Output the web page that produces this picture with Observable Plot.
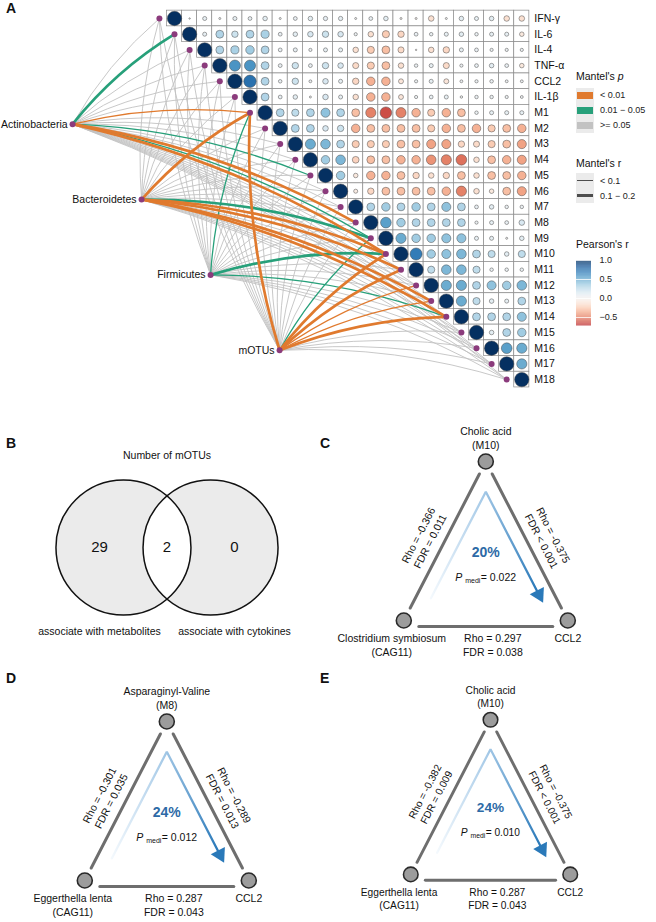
<!DOCTYPE html>
<html><head><meta charset="utf-8">
<script src="https://cdn.jsdelivr.net/npm/d3@7"></script>
<script src="https://cdn.jsdelivr.net/npm/@observablehq/plot@0.6"></script>
<style>
body{margin:0;background:#fff;font-family:"Liberation Sans",Arial,Helvetica,sans-serif;color:#111;}
#fig{position:relative;width:656px;height:922px;overflow:hidden;background:#fff;}
.pl{position:absolute;font-weight:bold;font-size:14px;line-height:14px;}
.lg{position:absolute;font-size:10.5px;line-height:12px;white-space:nowrap;}
.lgs{position:absolute;font-size:9px;line-height:10px;white-space:nowrap;color:#222;}
</style></head><body><div id="fig"></div>
<script>
// ---------------- DATA ----------------
const variables = ["IFN-γ","IL-6","IL-4","TNF-α","CCL2","IL-1β","M1","M2","M3","M4","M5","M6","M7","M8","M9","M10","M11","M12","M13","M14","M15","M16","M17","M18"];
// Pearson's r, upper triangle: row i holds r(i, j) for j = i+1 ... 23
const corrRows = [
 [0.01,0.08,0.02,0.08,0.07,0.1,0.02,0.07,0.1,0.09,0.09,0.02,0.07,0.1,-0.02,-0.02,-0.15,0.02,0.1,0.08,0.1,-0.15,-0.15],
 [0.08,0.3,0.2,0.3,0.32,0.07,0.1,0.15,0.2,0.15,0.05,-0.15,-0.25,-0.2,0.07,0.06,0.08,0.1,0.06,0.08,0.08,-0.1],
 [0.3,0.32,0.35,0.3,0.07,0.08,0.05,0.08,0.08,-0.15,-0.25,-0.3,-0.18,-0.01,-0.15,-0.2,0.08,0.07,0.05,0.05,0.05],
 [0.6,0.6,0.3,0.07,0.2,0.07,0.2,0.15,-0.18,-0.25,-0.3,-0.15,0.06,0.08,-0.18,0.05,0.07,0.1,0.07,-0.1],
 [0.75,0.3,0.06,0.2,0.04,0.15,0.08,-0.2,-0.35,-0.35,-0.12,0.05,0.08,-0.12,0.04,0.05,0.06,0.04,0.04],
 [0.3,0.07,0.1,0.02,0.15,0.08,-0.15,-0.35,-0.35,-0.12,0.05,0.07,0.08,0.03,0.06,0.06,0.05,0.04],
 [0.3,0.25,0.3,0.4,0.3,-0.3,-0.5,-0.65,-0.5,-0.35,-0.25,-0.35,-0.3,0.06,0.08,0.08,0.08],
 [0.3,0.3,0.15,0.2,-0.35,-0.3,-0.3,-0.3,-0.3,-0.25,-0.35,-0.3,-0.35,-0.25,-0.3,-0.35],
 [0.5,0.45,0.3,-0.25,-0.25,-0.25,-0.3,-0.3,-0.4,-0.4,-0.2,-0.18,-0.25,-0.3,-0.4],
 [0.35,0.45,-0.22,-0.3,-0.3,-0.35,-0.35,-0.45,-0.5,-0.55,-0.15,-0.3,-0.35,-0.4],
 [0.35,-0.1,-0.35,-0.35,-0.3,-0.2,-0.15,-0.2,-0.3,-0.15,-0.3,-0.3,-0.35],
 [-0.08,-0.2,-0.3,-0.3,-0.3,-0.3,-0.35,-0.5,-0.15,-0.1,-0.3,-0.4],
 [0.3,0.35,0.3,0.35,0.3,0.4,0.3,0.07,0.1,0.06,0.06],
 [0.55,0.35,0.3,0.3,0.3,0.3,0.05,0.08,0.07,0.15],
 [0.5,0.35,0.35,0.4,0.4,0.08,0.08,0.02,0.1],
 [0.7,0.35,0.4,0.45,0.3,0.25,0.1,0.25],
 [0.25,0.45,0.45,0.25,0.06,0.06,0.06],
 [0.5,0.5,0.3,0.4,0.35,0.45],
 [0.5,0.25,0.1,0.08,0.3],
 [0.3,0.3,0.3,0.4],
 [0.1,0.3,0.35],
 [0.55,0.5],
 [0.5]
];
const mantelSources = ["Actinobacteria","Bacteroidetes","Firmicutes","mOTUs"];
// significant Mantel tests: [source, target, Mantel's p class, Mantel's r class]; all others are ">= 0.05", "< 0.1"
const mantelLinks = [
 ["Actinobacteria","IL-6","0.01 - 0.05","0.1 - 0.2"],
 ["Actinobacteria","M1","< 0.01","< 0.1"],
 ["Actinobacteria","M5","0.01 - 0.05","< 0.1"],
 ["Actinobacteria","M8","< 0.01","0.1 - 0.2"],
 ["Actinobacteria","M9","0.01 - 0.05","< 0.1"],
 ["Actinobacteria","M10","< 0.01","0.1 - 0.2"],
 ["Bacteroidetes","M1","< 0.01","0.1 - 0.2"],
 ["Bacteroidetes","M9","0.01 - 0.05","0.1 - 0.2"],
 ["Bacteroidetes","M10","< 0.01","0.1 - 0.2"],
 ["Bacteroidetes","M11","< 0.01","0.1 - 0.2"],
 ["Bacteroidetes","M13","< 0.01","0.1 - 0.2"],
 ["Bacteroidetes","M14","< 0.01","0.1 - 0.2"],
 ["Firmicutes","M1","0.01 - 0.05","< 0.1"],
 ["Firmicutes","M10","0.01 - 0.05","0.1 - 0.2"],
 ["Firmicutes","M14","0.01 - 0.05","< 0.1"],
 ["mOTUs","M1","< 0.01","0.1 - 0.2"],
 ["mOTUs","M9","0.01 - 0.05","< 0.1"],
 ["mOTUs","M10","< 0.01","0.1 - 0.2"],
 ["mOTUs","M11","< 0.01","0.1 - 0.2"],
 ["mOTUs","M12","< 0.01","< 0.1"],
 ["mOTUs","M13","< 0.01","< 0.1"],
 ["mOTUs","M14","< 0.01","0.1 - 0.2"]
];
const mantelPClasses = ["< 0.01","0.01 - 0.05",">= 0.05"];
const mantelRClasses = ["< 0.1","0.1 - 0.2"];
const pearsonTicks = [1.0, 0.5, 0.0, -0.5];
const pearsonRange = [-0.72, 1.0];

const vennTitle = "Number of mOTUs";
const vennSets = ["associate with metabolites","associate with cytokines"];
const vennOnly = [29, 0];
const vennBoth = 2;

const metaboliteNames = ["Cholic acid\n(M10)","Asparaginyl-Valine\n(M8)","Cholic acid\n(M10)"];
const microbeNames = ["Clostridium symbiosum\n(CAG11)","Eggerthella lenta\n(CAG11)","Eggerthella lenta\n(CAG11)"];
const cytokineNames = ["CCL2","CCL2","CCL2"];
const rhoMicrobeMetab = [-0.366,-0.301,-0.382];
const fdrMicrobeMetab = ["= 0.011","= 0.035","= 0.009"];
const rhoMetabCyto = [-0.375,-0.289,-0.375];
const fdrMetabCyto = ["< 0.001","= 0.013","< 0.001"];
const rhoMicrobeCyto = [0.297,0.287,0.287];
const fdrMicrobeCyto = ["= 0.038","= 0.043","= 0.043"];
const mediationPct = [20,24,24];
const pMedi = [0.022,0.012,0.010];

// ---------------- HELPERS ----------------
const FONT = '"Liberation Sans", Arial, Helvetica, sans-serif';
const fig = document.getElementById("fig");
function place(node, left, top){const d=document.createElement("div");d.style.cssText=`position:absolute;left:${left}px;top:${top}px;`;d.appendChild(node);fig.appendChild(d);return d;}
function html(cls, text, left, top){const d=document.createElement("div");d.className=cls;d.innerHTML=text;d.style.left=left+"px";d.style.top=top+"px";fig.appendChild(d);return d;}
function box(css){const d=document.createElement("div");d.style.cssText="position:absolute;"+css;fig.appendChild(d);return d;}
const colorScale = {type:"linear", scheme:"RdBu", domain:[-1,1]};
const pColors = {"< 0.01":"#e07a2e","0.01 - 0.05":"#27a07a",">= 0.05":"#c2c2c2"};

// ---------------- PANEL A ----------------
{
  const cw = 15.1, ch = 15.7, gx0 = 174, gy0 = 18, AW = 656, AH = 395;
  const cells = [];
  variables.forEach((v,i)=>{
    cells.push({row:i,col:i,r:1});
    (corrRows[i]||[]).forEach((r,k)=>cells.push({row:i,col:i+1+k,r}));
  });
  const srcPos = mantelSources.map((s,k)=>({name:s, x:-6.75+4.57*k, y:6.73+4.8*k}));
  const tgtPos = variables.map((v,i)=>({name:v, x:i-1, y:i}));
  const links = [];
  srcPos.forEach(s=>tgtPos.forEach(t=>{
    const f = mantelLinks.find(l=>l[0]===s.name && l[1]===t.name);
    links.push({sx:s.x, sy:s.y, tx:t.x, ty:t.y, p: f?f[2]:">= 0.05", w: f?f[3]:"< 0.1"});
  }));
  const linkMarks = [];
  [">= 0.05","0.01 - 0.05","< 0.01"].forEach(p=>mantelRClasses.forEach(w=>{
    linkMarks.push(Plot.arrow(links.filter(d=>d.p===p && d.w===w), {
      x1:"sx", y1:"sy", x2:"tx", y2:"ty", bend:10, headLength:0,
      stroke:pColors[p], strokeWidth: w==="< 0.1" ? (p===">= 0.05"?0.9:1.3) : 2.7
    }));
  }));
  const plotA = Plot.plot({
    width:AW, height:AH, margin:0,
    x:{type:"linear", domain:[-gx0/cw,(AW-gx0)/cw], range:[0,AW], axis:null},
    y:{type:"linear", domain:[-gy0/ch,(AH-gy0)/ch], range:[0,AH], axis:null},
    r:{type:"sqrt", domain:[0,1], range:[0,7.2]},
    color:colorScale,
    style:{fontFamily:FONT, fontSize:"10.5px", background:"transparent", color:"#111"},
    marks:[
      ...linkMarks,
      Plot.rect(cells,{x1:d=>d.col-0.5,x2:d=>d.col+0.5,y1:d=>d.row-0.5,y2:d=>d.row+0.5,fill:"white",stroke:"#8a8a8a",strokeWidth:0.7}),
      Plot.dot(cells,{x:"col",y:"row",r:d=>Math.abs(d.r),fill:"r",stroke:"#4a4a4a",strokeWidth:0.5}),
      Plot.dot(tgtPos,{x:"x",y:"y",r:3,fill:"#8b3b7c"}),
      Plot.dot(srcPos,{x:"x",y:"y",r:3,fill:"#8b3b7c"}),
      Plot.text(srcPos,{x:"x",y:"y",text:"name",textAnchor:"end",dx:-5,fontSize:10.5}),
      Plot.text(variables,{x:variables.length-0.5,y:(d,i)=>i,text:d=>d,textAnchor:"start",dx:5,fontSize:10.5})
    ]
  });
  place(plotA,0,0);
  html("pl","A",6,1);

  // legends
  const LX = 576;
  html("lg","Mantel's <i>p</i>",LX,70);
  box(`left:${LX}px;top:88px;width:18px;height:45px;background:#ebebeb;`);
  mantelPClasses.forEach((p,k)=>{
    box(`left:${LX+1}px;top:${92+15*k}px;width:16px;height:7px;background:${pColors[p]};`);
    html("lgs",p.replace(" - "," − "),LX+24,90+15*k);
  });
  html("lg","Mantel's r",LX,157);
  box(`left:${LX}px;top:173px;width:18px;height:30px;background:#ebebeb;`);
  mantelRClasses.forEach((w,k)=>{
    const h = k===0?1.2:2.6;
    box(`left:${LX+1}px;top:${180.5+15*k-h/2}px;width:16px;height:${h}px;background:#4d4d4d;`);
    html("lgs",w.replace(" - "," − "),LX+24,175.5+15*k);
  });
  html("lg","Pearson's r",LX,238);
  const rampVals = d3.range(pearsonRange[0], pearsonRange[1], 0.01);
  const ramp = Plot.plot({
    width:70, height:90, margin:0,
    x:{type:"linear",domain:[0,1],range:[0,15],axis:null},
    y:{type:"linear",domain:pearsonRange,range:[75.4,10],axis:null},
    color:colorScale,
    style:{fontFamily:FONT, background:"transparent", color:"#222"},
    marks:[
      Plot.rect(rampVals,{x1:0,x2:1,y1:d=>d,y2:d=>Math.min(d+0.011,pearsonRange[1]),fill:d=>d}),
      Plot.tickY(pearsonTicks,{x1:0,x2:0.2,y:d=>d,stroke:"white",strokeWidth:0.8}),
      Plot.text(pearsonTicks,{x:1,y:d=>d,text:d=>d3.format(".1f")(d),dx:8,textAnchor:"start",fontSize:9})
    ]
  });
  place(ramp,LX,250);
}

// ---------------- PANEL B ----------------
{
  const W=330,H=250,R=67.5,cx=166.5,cy=152,d=0.645;
  const centers=[{x:-d,y:0,name:vennSets[0],count:vennOnly[0]},{x:d,y:0,name:vennSets[1],count:vennOnly[1]}];
  const a=Math.acos(d);
  const lens=[];
  d3.range(-a,a+1e-9,a/40).forEach(t=>lens.push({x:-d+Math.cos(t),y:Math.sin(t)}));
  d3.range(a,-a-1e-9,-a/40).forEach(t=>lens.push({x:d-Math.cos(t),y:Math.sin(t)}));
  const onlyX=[(-1-d+(d-1))/2,((1-d)+(1+d))/2];
  const plotB=Plot.plot({
    width:W,height:H,margin:0,
    x:{type:"linear",domain:[-cx/R,(W-cx)/R],range:[0,W],axis:null},
    y:{type:"linear",domain:[-cy/R,(H-cy)/R],range:[0,H],axis:null},
    style:{fontFamily:FONT,fontSize:"10.5px",background:"transparent",color:"#111"},
    marks:[
      Plot.dot(centers,{x:"x",y:"y",r:R,fill:"#ebebeb",stroke:"none"}),
      Plot.line(lens,{x:"x",y:"y",fill:"white",stroke:"none"}),
      Plot.dot(centers,{x:"x",y:"y",r:R,fill:"none",stroke:"#111",strokeWidth:1.5}),
      Plot.text([vennTitle],{x:0,y:-1.363,text:d=>d,fontSize:10.5}),
      Plot.text(centers,{x:(c,i)=>onlyX[i],y:0,text:"count",fontSize:15}),
      Plot.text([vennBoth],{x:0,y:0,text:d=>d,fontSize:15}),
      Plot.text(centers,{x:(c,i)=>onlyX[i],y:1.244,text:"name",fontSize:10.5})
    ]
  });
  place(plotB,0,395);
  html("pl","B",6,436);
}

// ---------------- PANELS C, D, E ----------------
function trianglePanel(k,left,top,letter,lx,ly){
  const W=326,H=262,cx=155.3,cy=220,ux=82,vy=159;
  const nodes=[{x:0,y:1},{x:-1,y:0},{x:1,y:0}];
  const sideEdges=[{x1:-1,y1:0,x2:0,y2:1},{x1:0,y1:1,x2:1,y2:0}];
  const bottomEdge=[{x1:-1,y1:0,x2:1,y2:0}];
  const tail={x:-0.67,y:0.14}, apex={x:0,y:0.81}, tip={x:0.70,y:0.11};
  const dxp=(tip.x-apex.x)*ux, dyp=-(tip.y-apex.y)*vy, L=Math.hypot(dxp,dyp), ex=dxp/L, ey=dyp/L;
  const headLen=14;
  const base={x:tip.x-ex*headLen/ux,y:tip.y+ey*headLen/vy};
  const cent={x:tip.x-ex*(headLen*2/3)/ux,y:tip.y+ey*(headLen*2/3)/vy};
  const rot=Math.atan2(ey,ex)*180/Math.PI+90;
  const gid="medGrad"+letter;
  const defs=()=>{
    const ns="http://www.w3.org/2000/svg";
    const df=document.createElementNS(ns,"defs");
    const g=document.createElementNS(ns,"linearGradient");
    g.setAttribute("id",gid);g.setAttribute("x1","0");g.setAttribute("x2","1");g.setAttribute("y1","0");g.setAttribute("y2","0");
    [["0","#f4f9fd"],["0.48","#a8cbe8"],["1","#2a79b9"]].forEach(([o,c])=>{const s=document.createElementNS(ns,"stop");s.setAttribute("offset",o);s.setAttribute("stop-color",c);g.appendChild(s);});
    df.appendChild(g);return df;
  };
  const sideLabels=[
    {x:-0.5,y:0.5,text:`Rho = ${rhoMicrobeMetab[k]}\nFDR ${fdrMicrobeMetab[k]}`},
    {x:0.5,y:0.5,text:`Rho = ${rhoMetabCyto[k]}\nFDR ${fdrMetabCyto[k]}`}
  ];
  const ang=Math.atan2(vy,ux)*180/Math.PI;
  const p=Plot.plot({
    width:W,height:H,margin:0,
    x:{type:"linear",domain:[-cx/ux,(W-cx)/ux],range:[0,W],axis:null},
    y:{type:"linear",domain:[(cy-H)/vy,cy/vy],range:[H,0],axis:null},
    style:{fontFamily:FONT,fontSize:"10.5px",background:"transparent",color:"#111"},
    marks:[
      defs,
      Plot.arrow(sideEdges,{x1:"x1",y1:"y1",x2:"x2",y2:"y2",headLength:0,insetStart:14,insetEnd:14,stroke:"#6e6e6e",strokeWidth:3}),
      Plot.arrow(bottomEdge,{x1:"x1",y1:"y1",x2:"x2",y2:"y2",headLength:0,insetStart:15,insetEnd:15,stroke:"#6e6e6e",strokeWidth:3,dy:6}),
      Plot.line([tail,apex,base],{x:"x",y:"y",stroke:`url(#${gid})`,strokeWidth:2.3,strokeLinejoin:"miter"}),
      Plot.dot([cent],{x:"x",y:"y",symbol:"triangle",r:5.9,fill:"#2a79b9",stroke:"none",rotate:rot}),
      Plot.dot(nodes,{x:"x",y:"y",r:7.5,fill:"#9c9c9c",stroke:"#2a2a2a",strokeWidth:1.6}),
      Plot.text([metaboliteNames[k]],{x:0,y:1,text:d=>d,lineAnchor:"bottom",dy:-13,lineHeight:1.3}),
      Plot.text([microbeNames[k]],{x:-1,y:0,text:d=>d,lineAnchor:"top",dy:12,dx:-12,lineHeight:1.3}),
      Plot.text([cytokineNames[k]],{x:1,y:0,text:d=>d,lineAnchor:"top",dy:12,lineHeight:1.3}),
      Plot.text([`Rho = ${rhoMicrobeCyto[k]}\nFDR ${fdrMicrobeCyto[k]}`],{x:0,y:0,text:d=>d,lineAnchor:"top",dy:12,dx:7,lineHeight:1.3}),
      Plot.text(sideLabels.slice(0,1),{x:"x",y:"y",text:"text",rotate:-ang,dx:-21,dy:-3,lineHeight:1.25}),
      Plot.text(sideLabels.slice(1),{x:"x",y:"y",text:"text",rotate:ang,dx:21,dy:-3,lineHeight:1.25}),
      Plot.text([`${mediationPct[k]}%`],{x:0,y:0.43,text:d=>d,fontSize:14,fontWeight:"bold",fill:"#2d6aa6"}),
      Plot.text(["P"],{x:0,y:0.27,text:d=>d,fontStyle:"italic",dx:-27}),
      Plot.text(["medi"],{x:0,y:0.27,text:d=>d,fontSize:7,dx:-13,dy:3}),
      Plot.text([`= ${d3.format(".3f")(pMedi[k])}`],{x:0,y:0.27,text:d=>d,textAnchor:"start",dx:-5})
    ]
  });
  place(p,left,top);
  html("pl",letter,lx,ly);
}
trianglePanel(0,330,400,"C",320,436);
trianglePanel(1,11.4,660,"D",6,671);
trianglePanel(2,339,660,"E",320,671);
</script></body></html>
